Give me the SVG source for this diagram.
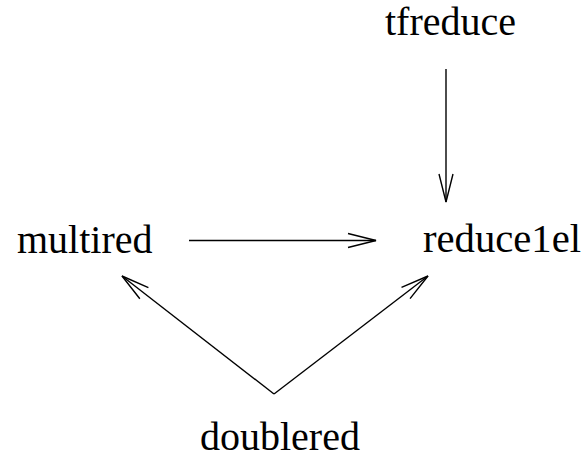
<svg xmlns="http://www.w3.org/2000/svg" width="584" height="459" viewBox="0 0 584 459">
<style>
text{font-family:"Liberation Serif","Times New Roman",serif;font-size:40px;fill:#000}
.e{stroke:#000;stroke-width:1.4;fill:none}
</style>
<defs>
<marker id="ah" markerUnits="userSpaceOnUse" viewBox="-30 -9 32 18" refX="0" refY="0" markerWidth="32" markerHeight="18" orient="auto" overflow="visible">
<path d="M-28,-7 L0,0 L-28,7" fill="none" stroke="#000" stroke-width="1.4"/>
</marker>
</defs>
<rect width="584" height="459" fill="#fff"/>
<g id="tfreduce"><text x="385" y="35">tfreduce</text></g>
<g id="multired"><text x="17" y="253">multired</text></g>
<g id="reduce1el"><text x="423" y="252" textLength="158" lengthAdjust="spacingAndGlyphs">reduce1el</text></g>
<g id="doublered"><text x="200" y="450">doublered</text></g>
<g id="connectors">
<line class="e" x1="446" y1="69" x2="446" y2="202" marker-end="url(#ah)"/>
<line class="e" x1="189" y1="240.5" x2="376" y2="240.5" marker-end="url(#ah)"/>
<line class="e" x1="274" y1="394" x2="122" y2="276" marker-end="url(#ah)"/>
<line class="e" x1="274" y1="394" x2="428" y2="276" marker-end="url(#ah)"/>
</g>
</svg>
